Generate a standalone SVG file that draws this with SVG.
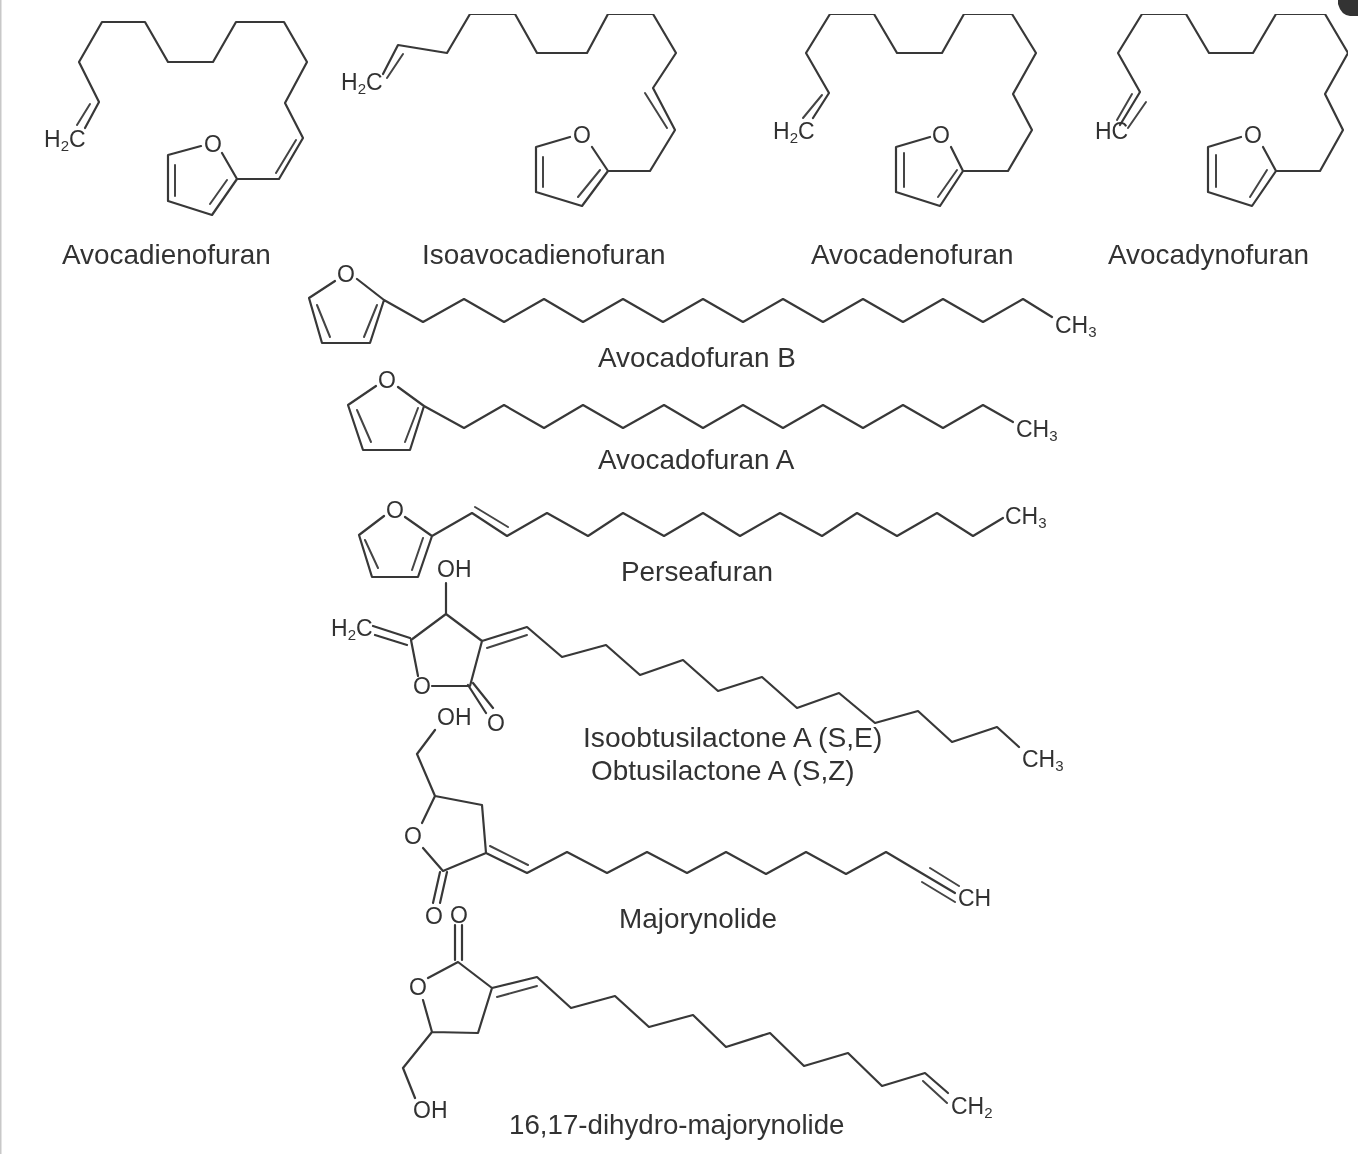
<svg xmlns="http://www.w3.org/2000/svg" width="1358" height="1154" viewBox="0 0 1358 1154">
<style>
.b{fill:none;stroke:#383838;stroke-width:2.2;stroke-linejoin:round;stroke-linecap:round}
.i{fill:none;stroke:#444;stroke-width:2;stroke-linecap:round}
text{font-family:"Liberation Sans",Arial,sans-serif;fill:#333}
.a{font-size:23px}
.m{font-size:23px;text-anchor:middle}
.n{font-size:27.9px}
.s{font-size:15px}
</style>
<defs><filter id="soft" x="0" y="0" width="100%" height="100%"><feGaussianBlur stdDeviation="0.6"/></filter></defs>
<rect width="1358" height="1154" fill="#fff"/>
<rect x="0" y="0" width="1.5" height="1154" fill="#c8c8c8"/>
<path d="M1338 0H1358V16H1350Q1341 15 1338 4Z" fill="#333"/>
<g filter="url(#soft)">
<g id="avocadienofuran">
<path class="b" d="M85 128L99 102L79 62L102 22H145L168 62H213L236 22H284L307 62L285 103L303 138L279 179H237L212 215L168 201V155L201 146M222 153L237 179"/>
<path class="i" d="M77 125L90 104M276 173L296 140M175 165V196M210 204L227 180"/>
<text class="a" x="44" y="147">H<tspan class="s" dy="4">2</tspan><tspan dy="-4">C</tspan></text>
<text class="m" x="213" y="152">O</text>
<text class="n" x="62" y="264">Avocadienofuran</text>
</g>
<g id="isoavocadienofuran">
<path class="b" d="M383 74L398 45L447 53L470 14H515L537 53H587L608 14H653L676 53L653 88L675 130L650 171H608L582 206L536 192V147L570 137M592 147L608 171"/>
<path class="i" d="M387 78L403 54M645 93L667 128M543 157V187M578 197L600 170"/>
<text class="a" x="341" y="90">H<tspan class="s" dy="4">2</tspan><tspan dy="-4">C</tspan></text>
<text class="m" x="582" y="143">O</text>
<text class="n" x="422" y="264">Isoavocadienofuran</text>
</g>
<g id="avocadenofuran">
<path class="b" d="M813 118L829 93L806 53L830 14H874L897 53H942L964 14H1012L1036 53L1013 94L1032 130L1008 171H963L940 206L896 192V147L930 137M951 147L963 171"/>
<path class="i" d="M803 118L822 95M904 153V187M938 197L957 170"/>
<text class="a" x="773" y="139">H<tspan class="s" dy="4">2</tspan><tspan dy="-4">C</tspan></text>
<text class="m" x="941" y="143">O</text>
<text class="n" x="811" y="264">Avocadenofuran</text>
</g>
<g id="avocadynofuran">
<path class="b" d="M1120 125L1140 92L1118 53L1142 14H1186L1209 53H1253L1276 14H1325L1348 53L1325 94L1343 130L1320 171H1276L1252 206L1208 192V147L1241 137M1263 147L1276 171"/>
<path class="i" d="M1117 120L1132 94M1128 128L1146 102M1216 155V187M1250 197L1267 170"/>
<text class="a" x="1095" y="139">HC</text>
<text class="m" x="1253" y="143">O</text>
<text class="n" x="1108" y="264">Avocadynofuran</text>
</g>
<g id="avocadofuran-b">
<path class="b" d="M335 281L309 298L322 343H370L384 300L357 279M384 300L423 322L464 299L504 322L544 299L583 322L623 299L663 322L703 299L743 322L783 299L823 322L863 299L903 322L943 299L983 322L1023 299L1052 317"/>
<path class="i" d="M317 305L330 337M364 337L377 305"/>
<text class="m" x="346" y="282">O</text>
<text class="a" x="1055" y="333">CH<tspan class="s" dy="4">3</tspan></text>
<text class="n" x="598" y="367">Avocadofuran B</text>
</g>
<g id="avocadofuran-a">
<path class="b" d="M376 386L348 405L363 450H410L424 406L398 387M424 406L464 428L504 405L544 428L583 405L623 428L664 405L703 428L743 405L783 428L823 405L863 428L903 405L943 428L983 405L1013 422"/>
<path class="i" d="M357 410L371 442M405 442L418 408"/>
<text class="m" x="387" y="388">O</text>
<text class="a" x="1016" y="437">CH<tspan class="s" dy="4">3</tspan></text>
<text class="n" x="598" y="469">Avocadofuran A</text>
</g>
<g id="perseafuran">
<path class="b" d="M384 516L359 535L372 577H418L432 536L405 517M432 536L472 513L507 536L547 513L588 536L623 513L664 536L703 513L740 536L780 513L822 536L857 513L897 536L937 513L973 536L1003 518"/>
<path class="i" d="M365 540L378 568M412 570L423 538M475 507L508 527"/>
<text class="m" x="395" y="518">O</text>
<text class="a" x="1005" y="524">CH<tspan class="s" dy="4">3</tspan></text>
<text class="n" x="621" y="581">Perseafuran</text>
</g>
<g id="obtusilactone">
<path class="b" d="M446 583V614L411 640L418 676M432 686H470L482 641L446 614M482 641L527 627L562 657L606 645L640 675L683 660L718 691L762 677L797 708L839 693L875 723L918 711L952 742L997 727L1019 747M410 638L373 626M407 645L375 635M468 685L486 713M473 683L493 708"/>
<path class="i" d="M487 648L527 635"/>
<text class="a" x="437" y="577">OH</text>
<text class="a" x="331" y="636">H<tspan class="s" dy="4">2</tspan><tspan dy="-4">C</tspan></text>
<text class="m" x="422" y="694">O</text>
<text class="m" x="496" y="731">O</text>
<text class="a" x="1022" y="767">CH<tspan class="s" dy="4">3</tspan></text>
<text class="n" x="583" y="747" style="font-size:28.2px">Isoobtusilactone A (S,E)</text>
<text class="n" x="591" y="780">Obtusilactone A (S,Z)</text>
</g>
<g id="majorynolide">
<path class="b" d="M435 730L417 754L435 796L482 805L486 853L443 871L423 848M422 823L435 796M486 853L527 873L567 852L607 873L647 852L687 873L726 852L766 874L806 852L846 874L886 852L955 893M440 872L433 903M447 872L440 903"/>
<path class="i" d="M490 846L528 865M930 868L959 886M922 882L955 902"/>
<text class="a" x="437" y="725">OH</text>
<text class="m" x="413" y="844">O</text>
<text class="m" x="434" y="924">O</text>
<text class="a" x="958" y="906">CH</text>
<text class="n" x="619" y="928">Majorynolide</text>
</g>
<g id="dihydro-majorynolide">
<path class="b" d="M428 978L458 962L492 988L478 1033L432 1032L423 1000M432 1032L403 1068L415 1098M492 988L537 977L571 1008L615 996L649 1027L693 1015L726 1047L770 1033L804 1066L848 1053L882 1086L925 1073L948 1093M455 925V960M462 925V960"/>
<path class="i" d="M497 997L537 986M923 1081L947 1103"/>
<text class="m" x="459" y="923">O</text>
<text class="m" x="418" y="995">O</text>
<text class="a" x="413" y="1118">OH</text>
<text class="a" x="951" y="1114">CH<tspan class="s" dy="4">2</tspan></text>
<text class="n" x="509" y="1134" style="font-size:27.7px">16,17-dihydro-majorynolide</text>
</g>
</g>
</svg>
